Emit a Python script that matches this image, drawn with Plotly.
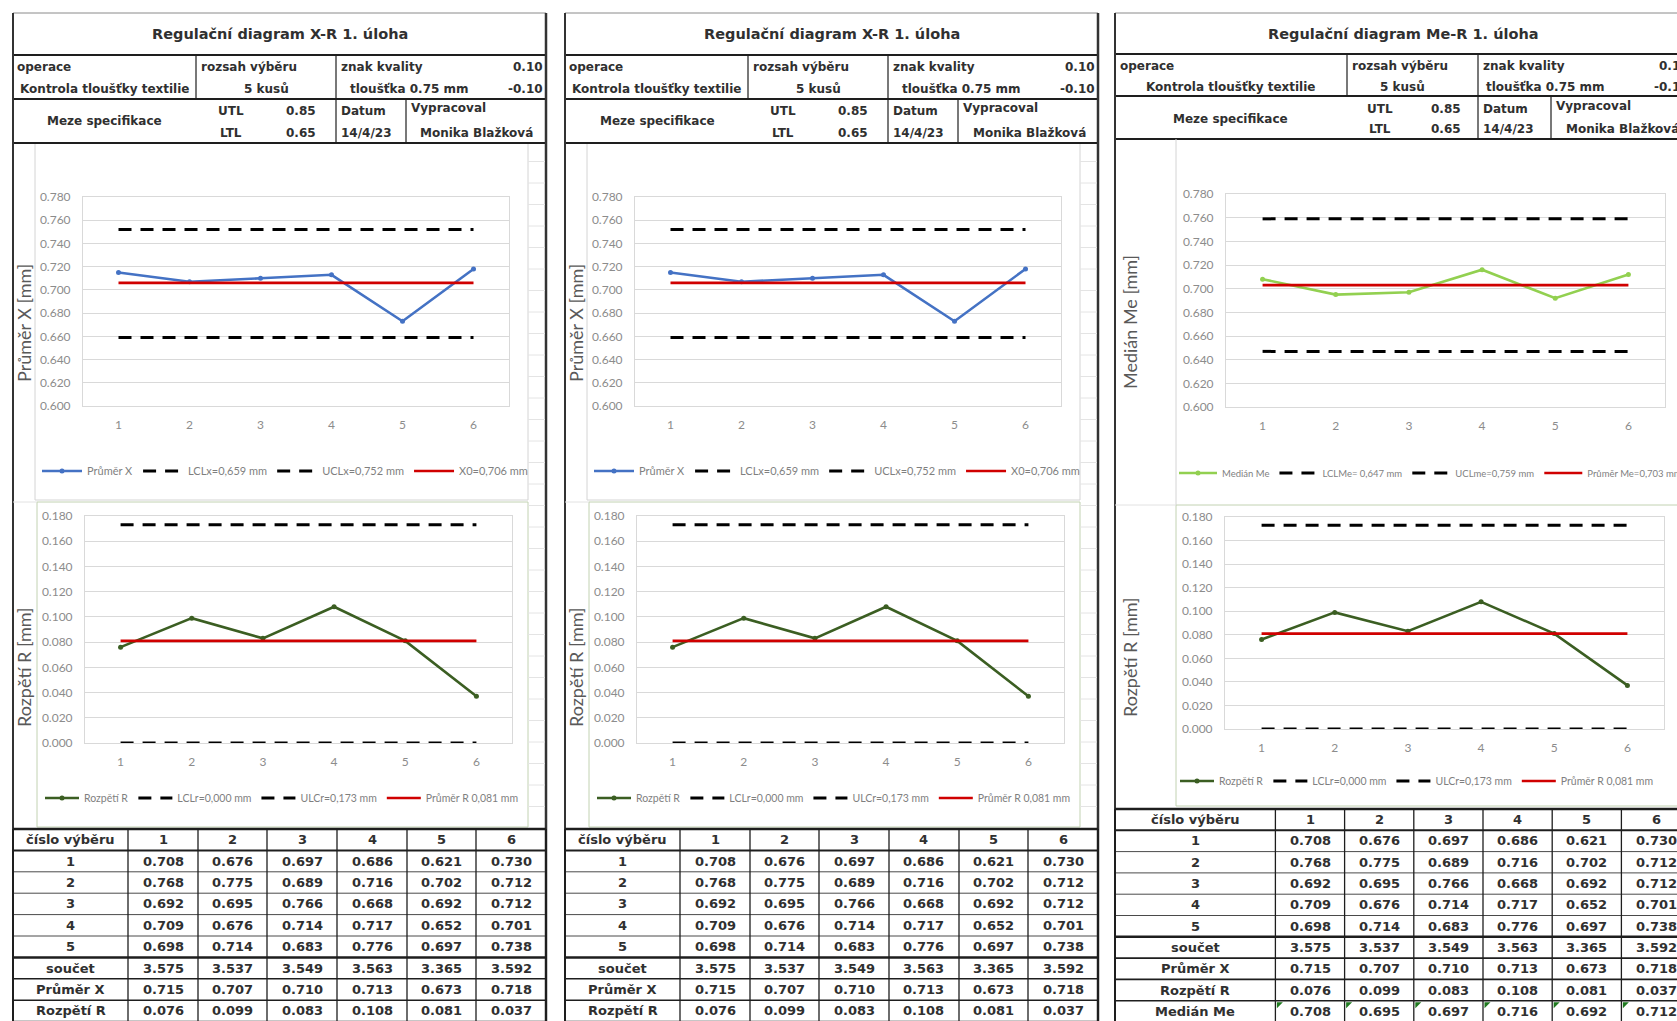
import plotly.graph_objects as go

W, H = 1677, 1021

# ---------------------------------------------------------------- data
samples = [1, 2, 3, 4, 5, 6]
sample_labels = ["1", "2", "3", "4", "5", "6"]
row_labels = ["1", "2", "3", "4", "5"]

piece_1 = [0.708, 0.676, 0.697, 0.686, 0.621, 0.730]
piece_2 = [0.768, 0.775, 0.689, 0.716, 0.702, 0.712]
piece_3 = [0.692, 0.695, 0.766, 0.668, 0.692, 0.712]
piece_4 = [0.709, 0.676, 0.714, 0.717, 0.652, 0.701]
piece_5 = [0.698, 0.714, 0.683, 0.776, 0.697, 0.738]
soucet = [3.575, 3.537, 3.549, 3.563, 3.365, 3.592]
prumer_x = [0.715, 0.707, 0.710, 0.713, 0.673, 0.718]
rozpeti_r = [0.076, 0.099, 0.083, 0.108, 0.081, 0.037]
median_me = [0.708, 0.695, 0.697, 0.716, 0.692, 0.712]

lcl_x, ucl_x, x0_mean = 0.659, 0.752, 0.706
lcl_r, ucl_r, r_mean = 0.000, 0.173, 0.081
lcl_me, ucl_me, me_mean = 0.647, 0.759, 0.703

x_ticks = [0.60, 0.62, 0.64, 0.66, 0.68, 0.70, 0.72, 0.74, 0.76, 0.78]
r_ticks = [0.00, 0.02, 0.04, 0.06, 0.08, 0.10, 0.12, 0.14, 0.16, 0.18]

utl, ltl = 0.85, 0.65
tol_up, tol_down = 0.10, -0.10
nominal = 0.75
sample_size = 5
date_text = "14/4/23"
author = "Monika Blažková"
operation = "Kontrola tloušťky textilie"

# ---------------------------------------------------------------- style
SHEET_FONT = "DejaVu Sans"
CHART_FONT = "Lato"
INK = "#1e1e1e"
TXT = "#303030"
GRID = "#d9d9d9"
TICK = "#8c8c8c"
LEG = "#7f7f7f"
BLUE = "#4472c4"
DKGREEN = "#3b5e22"
LTGREEN = "#92d050"
RED = "#d00000"


def X(p):
    return p / W


def Y(p):
    return 1 - p / H


def cz(v, nd=3):
    return f"{v:.{nd}f}".replace(".", ",")


shapes, notes = [], []


def line(x0, y0, x1, y1, color=INK, width=1):
    shapes.append(dict(type="line", xref="paper", yref="paper",
                       x0=X(x0), y0=Y(y0), x1=X(x1), y1=Y(y1),
                       line=dict(color=color, width=width)))


def box(x0, y0, x1, y1, color, width=1):
    shapes.append(dict(type="rect", xref="paper", yref="paper",
                       x0=X(x0), y0=Y(y1), x1=X(x1), y1=Y(y0),
                       line=dict(color=color, width=width),
                       fillcolor="rgba(0,0,0,0)", layer="below"))


def label(x, y, s, size=12, anchor="center", color=TXT, family=SHEET_FONT, angle=0, bold=True):
    notes.append(dict(xref="paper", yref="paper", x=X(x), y=Y(y),
                      text=f"<b>{s}</b>" if bold else s,
                      showarrow=False, xanchor=anchor, yanchor="middle",
                      textangle=angle,
                      font=dict(family=family, size=size, color=color)))


# ---------------------------------------------------------------- sheet header
def sheet_header(L, R, rows, cols, title, title_x, txt):
    t0, t1, t2, t3 = rows
    c1, c2, c3 = cols
    line(L, t0, R, t0, "#8a8a8a", 1)
    for t in (t1, t2, t3):
        line(L, t, R, t, INK, 2)
    line(c1, t1, c1, t2, INK, 1.2)
    line(c2, t1, c2, t3, INK, 1.2)
    line(c3, t2, c3, t3, INK, 1.2)
    line(L, t0, L, H, "#333333", 2)
    line(R, t0, R, H, "#333333", 2.5)
    label(title_x, (t0 + t1) / 2, title, size=14.5)
    for x, y, s, a in txt:
        label(x, y, s, size=12, anchor=a)


def header_texts(dx, spec):
    values = {
        "op": "operace", "op2": operation, "rz": "rozsah výběru",
        "rz2": f"{sample_size} kusů", "zn": "znak kvality", "up": f"{tol_up:.2f}",
        "zn2": f"tloušťka {nominal:.2f} mm", "dn": f"{tol_down:.2f}",
        "mz": "Meze specifikace", "utl": "UTL", "utlv": f"{utl:.2f}",
        "ltl": "LTL", "ltlv": f"{ltl:.2f}", "dt": "Datum", "dtv": date_text,
        "vp": "Vypracoval", "vpv": author,
    }
    return [(x + dx, y, values[k], a) for k, x, y, a in spec]


spec_xr = [
    ("op", 15, 67, "left"), ("op2", 105, 89, "center"),
    ("rz", 199, 67, "left"), ("rz2", 266, 89, "center"),
    ("zn", 339, 67, "left"), ("up", 545, 67, "right"),
    ("zn2", 409, 89, "center"), ("dn", 545, 89, "right"),
    ("mz", 105, 121, "center"),
    ("utl", 231, 111, "center"), ("utlv", 318, 111, "right"),
    ("ltl", 231, 133, "center"), ("ltlv", 318, 133, "right"),
    ("dt", 339, 111, "left"), ("dtv", 339, 133, "left"),
    ("vp", 409, 108, "left"), ("vpv", 477, 133, "center"),
]
spec_me = [
    ("op", 1118, 66, "left"), ("op2", 1231, 87, "center"),
    ("rz", 1350, 66, "left"), ("rz2", 1402, 87, "center"),
    ("zn", 1481, 66, "left"), ("up", 1691, 66, "right"),
    ("zn2", 1545, 87, "center"), ("dn", 1691, 87, "right"),
    ("mz", 1230, 119, "center"),
    ("utl", 1380, 109, "center"), ("utlv", 1463, 109, "right"),
    ("ltl", 1380, 129, "center"), ("ltlv", 1463, 129, "right"),
    ("dt", 1481, 109, "left"), ("dtv", 1481, 129, "left"),
    ("vp", 1554, 106, "left"), ("vpv", 1622, 129, "center"),
]

# ---------------------------------------------------------------- data table
def data_table(cols, top, rh, rows):
    n = len(rows) + 1
    bottom = top + n * rh
    weights = {0: 2.5, 1: 2, len(row_labels) + 1: 2.5}
    for k in range(n + 1):
        y = top + k * rh
        w = weights.get(k, 1.6 if k > len(row_labels) + 1 else 1)
        c = INK if w > 1 else "#4a4a4a"
        line(cols[0], y, cols[-1], y, c, w)
    for i, cx in enumerate(cols):
        w = 2 if i in (0, len(cols) - 1) else 1.3
        line(cx, top, cx, bottom, INK, w)
    cy = top + rh / 2
    label((cols[0] + cols[1]) / 2, cy, "číslo výběru", size=13)
    for j, s in enumerate(sample_labels):
        label((cols[j + 1] + cols[j + 2]) / 2, cy, s, size=13)
    for r, (name, vals, flag) in enumerate(rows):
        cy = top + (r + 1.5) * rh
        label((cols[0] + cols[1]) / 2, cy, name, size=13)
        for j, v in enumerate(vals):
            xl = cols[j + 1]
            label((xl + cols[j + 2]) / 2, cy, f"{v:.3f}", size=13)
            if flag:
                yt = top + (r + 1) * rh + 1.5
                shapes.append(dict(type="path", xref="paper", yref="paper",
                                   path=f"M {X(xl + 1.5)},{Y(yt)} L {X(xl + 7.5)},{Y(yt)} L {X(xl + 1.5)},{Y(yt + 6)} Z",
                                   fillcolor="#1f7a1f", line=dict(width=0)))


rows_xr = [(row_labels[i], p, False) for i, p in enumerate([piece_1, piece_2, piece_3, piece_4, piece_5])]
rows_xr += [("součet", soucet, False), ("Průměr X", prumer_x, False), ("Rozpětí R", rozpeti_r, False)]
rows_me = rows_xr + [("Medián Me", median_me, True)]

# ---------------------------------------------------------------- charts
fig = go.Figure()
layout_axes = {}
legends = {}


def control_chart(i, xpx, ypx, rng, ticks, values, name, color, limits, leg, ytitle, ytitle_xy):
    xn = "x" if i == 1 else f"x{i}"
    yn = "y" if i == 1 else f"y{i}"
    ln = "legend" if i == 1 else f"legend{i}"
    lo, hi, mid, names = limits
    fig.add_trace(go.Scatter(x=samples, y=values, name=name, mode="lines+markers",
                             line=dict(color=color, width=2.6), marker=dict(size=5, color=color),
                             xaxis=xn, yaxis=yn, legend=ln))
    for v, nm in ((lo, names[0]), (hi, names[1])):
        fig.add_trace(go.Scatter(x=samples, y=[v] * len(samples), name=nm, mode="lines",
                                 line=dict(color="#000000", width=3, dash="13px,9px"),
                                 xaxis=xn, yaxis=yn, legend=ln))
    fig.add_trace(go.Scatter(x=samples, y=[mid] * len(samples), name=names[2], mode="lines",
                             line=dict(color=RED, width=2.6),
                             xaxis=xn, yaxis=yn, legend=ln))
    axfont = dict(family=CHART_FONT, size=12, color=TICK)
    layout_axes["xaxis" if i == 1 else f"xaxis{i}"] = dict(
        domain=[X(xpx[0]), X(xpx[1])], range=[0.5, 6.5], tickvals=samples, ticktext=sample_labels,
        showgrid=False, zeroline=False, showline=True, linecolor=GRID, mirror=True, ticks="",
        tickfont=axfont, ticklabelstandoff=8, fixedrange=True, anchor=yn, automargin=False)
    layout_axes["yaxis" if i == 1 else f"yaxis{i}"] = dict(
        domain=[Y(ypx[1]), Y(ypx[0])], range=list(rng), tickvals=ticks, tickformat=".3f",
        showgrid=True, gridcolor=GRID, gridwidth=1, zeroline=False, showline=True, linecolor=GRID,
        mirror=True, ticks="", tickfont=axfont, ticklabelstandoff=9, fixedrange=True, anchor=xn,
        automargin=False)
    lx, ly, lw, lsize = leg
    legends[ln] = dict(orientation="h", x=X(lx), y=Y(ly), xanchor="left",
                       yanchor="middle", bgcolor="rgba(0,0,0,0)", traceorder="normal",
                       itemwidth=lw,
                       font=dict(family=CHART_FONT, size=lsize, color=LEG))
    label(ytitle_xy[0], ytitle_xy[1], ytitle, size=18, color="#595959", family=CHART_FONT,
          angle=-90, bold=False)


x_names = (f"LCLx={cz(lcl_x)} mm", f"UCLx={cz(ucl_x)} mm", f"X0={cz(x0_mean)} mm")
r_names = (f"LCLr={cz(lcl_r)} mm", f"ULCr={cz(ucl_r)} mm", f"Průměr R {cz(r_mean)} mm")
me_names = (f"LCLMe= {cz(lcl_me)} mm", f"UCLme={cz(ucl_me)} mm", f"Průměr Me={cz(me_mean)} mm")

# two identical X-R sheets side by side
for k, dx in enumerate((0, 552)):
    L, R = 13 + dx, 546 + dx
    sheet_header(L, R, (13, 55, 99, 143), (196 + dx, 336 + dx, 406 + dx),
                 "Regulační diagram X-R 1. úloha", 280 + dx, header_texts(dx, spec_xr))
    box(35 + dx, 143, 528 + dx, 500, "#d4d4d4", 1)
    box(37 + dx, 502, 528 + dx, 827, "#c2d2b2", 1)
    line(L, 502, 37 + dx, 502, "#e2e2e2", 1)
    yy = 161.5
    while yy < 827:
        line(528 + dx, yy, R - 1, yy, "#e4e4e4", 1)
        yy += 21.5
    control_chart(2 * k + 1, (83 + dx, 509 + dx), (197, 406), (0.6, 0.78), x_ticks, prumer_x,
                  "Průměr X", BLUE, (lcl_x, ucl_x, x0_mean, x_names), (37 + dx, 471, 40, 11),
                  "Průměr X [mm]", (24 + dx, 323))
    control_chart(2 * k + 2, (85 + dx, 512 + dx), (516, 743), (0.0, 0.18), r_ticks, rozpeti_r,
                  "Rozpětí R", DKGREEN, (lcl_r, ucl_r, r_mean, r_names), (40 + dx, 798, 34, 10.5),
                  "Rozpětí R [mm]", (24 + dx, 667))
    data_table([13 + dx, 128 + dx, 198 + dx, 267 + dx, 337 + dx, 407 + dx, 476 + dx, 546 + dx],
               829, 21.4, rows_xr)

# Me-R sheet
sheet_header(1115, 1700, (13, 54, 96, 139), (1347, 1478, 1551),
             "Regulační diagram Me-R 1. úloha", 1403, header_texts(0, spec_me))
line(1176, 139, 1176, 505, "#d4d4d4", 1)
box(1176, 505, 1700, 806, "#c2d2b2", 1)
line(1115, 505, 1176, 505, "#e2e2e2", 1)
control_chart(5, (1226, 1665), (194, 407), (0.6, 0.78), x_ticks, median_me,
              "Medián Me", LTGREEN, (lcl_me, ucl_me, me_mean, me_names), (1174, 473, 38, 9.5),
              "Medián Me [mm]", (1130, 322))
control_chart(6, (1225, 1664), (517, 729), (0.0, 0.18), r_ticks, rozpeti_r,
              "Rozpětí R", DKGREEN, (lcl_r, ucl_r, r_mean, r_names), (1175, 781, 34, 10.5),
              "Rozpětí R [mm]", (1130, 657))
data_table([1115, 1275.4, 1344.6, 1413.8, 1483, 1552.2, 1621.4, 1690.6], 809, 21.3, rows_me)

fig.update_layout(width=W, height=H, margin=dict(l=0, r=0, t=0, b=0, autoexpand=False),
                  paper_bgcolor="white", plot_bgcolor="rgba(0,0,0,0)",
                  showlegend=True, shapes=shapes, annotations=notes,
                  **layout_axes, **legends)

fig.write_html("out.html")
